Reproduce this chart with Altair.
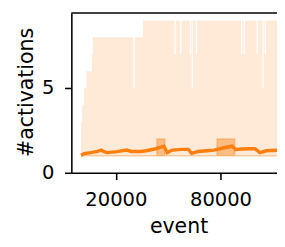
import altair as alt
import pandas as pd

# upper envelope (max) of #activations, lower envelope is 1 everywhere
band_event = [0, 620, 1570, 3070, 6200, 6760, 30000, 30800, 35600,
              53500, 54300, 56900, 57600, 62400, 63000, 63500, 64100,
              65900, 66600, 91800, 92500, 93300, 94000, 100700, 101400,
              104100, 104800, 105300, 106000, 112400]
band_max = [3, 4, 5, 6, 7, 8, 5, 8, 9,
            7, 9, 7, 9, 7, 9, 5, 9,
            7, 9, 7, 9, 7, 9, 7, 9,
            5, 9, 7, 9, 9]
band_min = [1] * len(band_event)

# inter-quartile band
q_event = [0, 43500, 48100, 78000, 88200, 112400]
q_hi = [1, 2, 1, 2, 1, 1]
q_lo = [1, 1, 1, 1, 1, 1]

# mean #activations
mean_event = [0, 1960, 5650, 9390, 11630, 13140, 14980, 20570, 26160, 28960,
              34550, 37350, 42940, 47570, 49470, 52270, 57860, 61550, 63450,
              67140, 73680, 76480, 82070, 86700, 88600, 95090, 99780, 102580,
              106270, 112400]
mean_val = [1.03, 1.13, 1.19, 1.26, 1.34, 1.25, 1.19, 1.25, 1.34, 1.26,
            1.26, 1.30, 1.42, 1.57, 1.19, 1.34, 1.38, 1.38, 1.15,
            1.26, 1.32, 1.34, 1.48, 1.57, 1.38, 1.42, 1.42, 1.19,
            1.30, 1.33]

W, H = 211, 164
orange = "#ff7f0e"

xscale = alt.Scale(domain=[-5534, 112415], nice=False, zero=False)
yscale = alt.Scale(domain=[0, 9.44], nice=False, zero=False)

xaxis = alt.Axis(values=[20000, 80000], format="d", title="event",
                 labelBaseline="alphabetic", labelPadding=27,
                 titleX=110, titleY=61, titleBaseline="alphabetic")
yaxis = alt.Axis(values=[0, 5], title="#activations", labelPadding=11,
                 titleAngle=270, titleX=-40, titleY=81,
                 titleBaseline="alphabetic")

band_df = pd.DataFrame({"event": band_event, "hi": band_max, "lo": band_min})
q_df = pd.DataFrame({"event": q_event, "hi": q_hi, "lo": q_lo})
mean_df = pd.DataFrame({"event": mean_event, "val": mean_val})

band = alt.Chart(band_df).mark_area(
    interpolate="step-after", color=orange, opacity=0.16, clip=True
).encode(
    x=alt.X("event:Q", scale=xscale, axis=xaxis),
    y=alt.Y("hi:Q", scale=yscale, axis=yaxis),
    y2="lo:Q",
)

iqr = alt.Chart(q_df).mark_area(
    interpolate="step-after", color=orange, fillOpacity=0.42,
    stroke=orange, strokeOpacity=0.35, strokeWidth=1.5, clip=True
).encode(
    x=alt.X("event:Q", scale=xscale),
    y=alt.Y("hi:Q", scale=yscale),
    y2="lo:Q",
)

line = alt.Chart(mean_df).mark_line(
    color=orange, strokeWidth=3.5, clip=True
).encode(
    x=alt.X("event:Q", scale=xscale),
    y=alt.Y("val:Q", scale=yscale),
)

top = alt.Chart(pd.DataFrame({"a": [0]})).mark_rule(
    color="black", strokeWidth=1.6
).encode(x=alt.value(0), x2=alt.value(W), y=alt.value(0))

chart = alt.layer(band, iqr, line, top).properties(
    width=W, height=H,
    padding={"left": 65, "top": 2, "right": 0, "bottom": 70},
    autosize=alt.AutoSizeParams(type="none"),
).configure_view(stroke=None).configure_axis(
    grid=False,
    domainColor="black", domainWidth=1.6,
    tickColor="black", tickWidth=1.6, tickSize=7,
    labelColor="black", titleColor="black",
    labelFont="DejaVu Sans", titleFont="DejaVu Sans",
    labelFontSize=20, titleFontSize=21, titleFontWeight="normal",
)

chart.save("out.html", embed_options={"renderer": "svg", "actions": False})
